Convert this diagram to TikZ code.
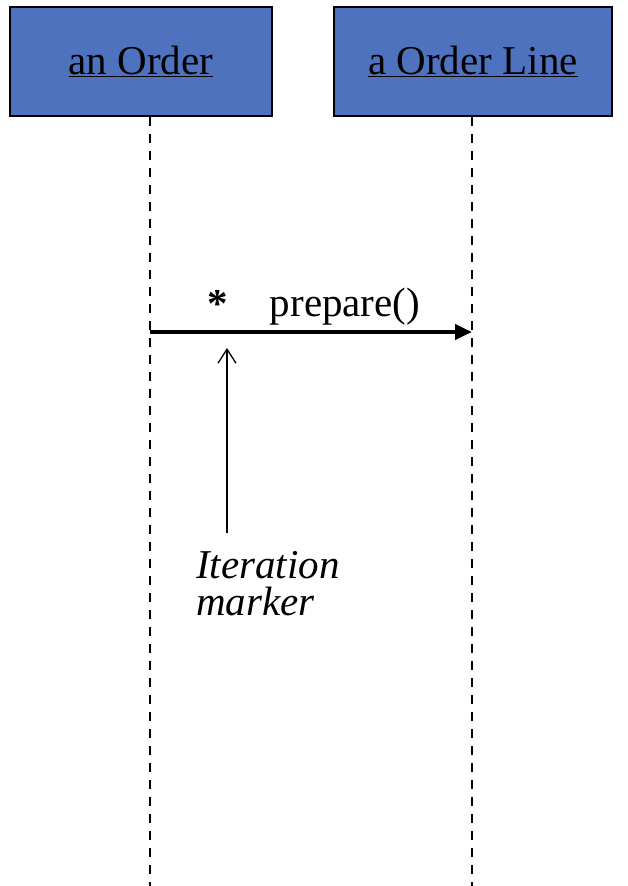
\documentclass[tikz,border=0pt]{standalone}
\usepackage{fontspec}
\setmainfont{Liberation Serif}
\usetikzlibrary{arrows.meta,positioning}
\definecolor{objblue}{RGB}{79,114,190}
\tikzset{
  object/.style={draw=black,line width=2.2pt,fill=objblue,minimum width=#1,minimum height=109pt,inner sep=0pt},
  lifeline/.style={line width=2pt,dash pattern=on 9pt off 8pt},
  message/.style={line width=4pt,-{Triangle[length=17pt,width=15pt]}},
  pointer/.style={line width=1.3pt,-{Straight Barb[length=14pt,width=18pt]}}
}
\begin{document}
\begin{tikzpicture}[x=1pt,y=-1pt,font=\fontsize{41}{37}\selectfont]
\useasboundingbox (0,0) rectangle (628,886);
% Objects
\node[object=262pt] (order) at (141,61.5) {\underline{an Order}};
\node[object=278pt] (line) at (473,61.5) {\underline{a Order Line}};

% Lifelines
\coordinate (orderend) at (150,886);
\coordinate (lineend) at (472,886);
\draw[lifeline] (order.south -| orderend) -- (orderend);
\draw[lifeline] (line.south -| lineend) -- (lineend);

% Message with iteration marker
\coordinate (send) at (150,332);
\coordinate (recv) at (472,332);
\draw[message] (send) -- (recv);
\node (star) at (218,304) {\textbf{*}};
\node (msg) at (345,307) {prepare()};

% Note pointing at the marker
\coordinate (markertip) at (227,348);
\coordinate (markerfoot) at (227,533);
\node[anchor=north west,align=left,inner sep=0pt,font=\fontsize{41}{37}\selectfont\itshape] (note) at (196,551) {Iteration\\marker};
\draw[pointer] (markerfoot) -- (markertip);
\end{tikzpicture}
\end{document}
